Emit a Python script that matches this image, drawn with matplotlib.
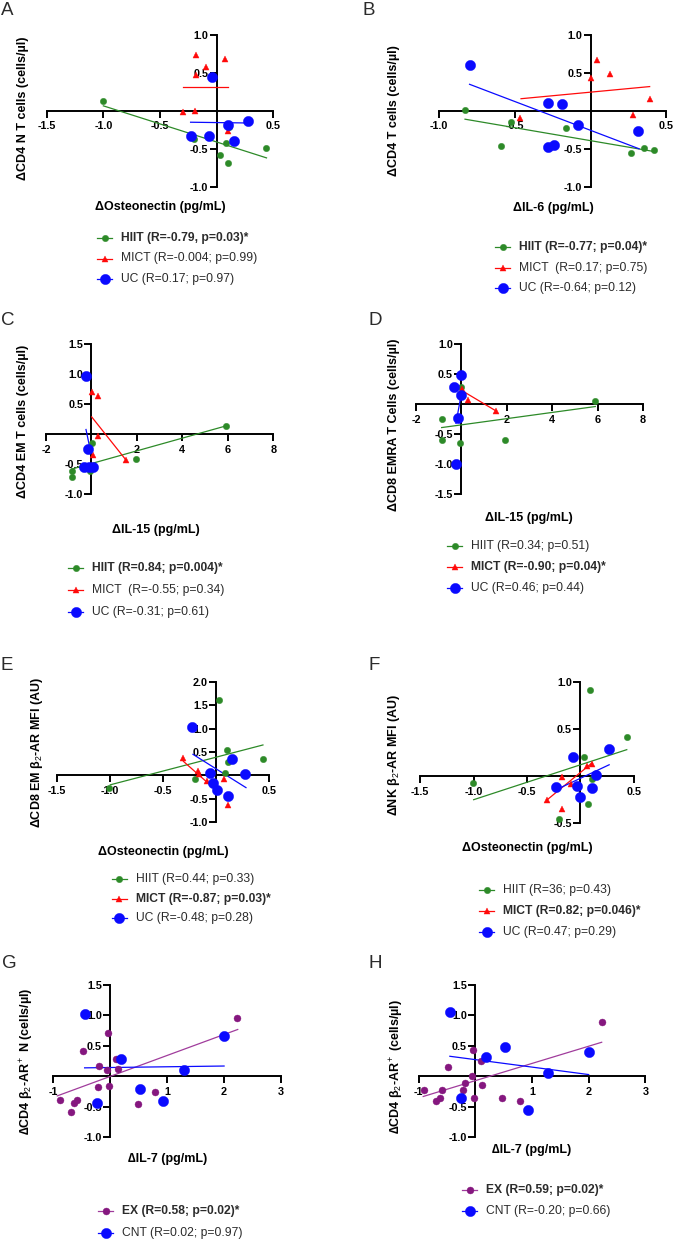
import numpy as np
import matplotlib
matplotlib.use('Agg')
import matplotlib.pyplot as plt
from matplotlib.lines import Line2D

plt.rcParams['font.family'] = ['Liberation Sans', 'DejaVu Sans']
plt.rcParams['mathtext.fontset'] = 'custom'
plt.rcParams['mathtext.rm'] = 'Liberation Sans'
plt.rcParams['mathtext.bf'] = 'Liberation Sans:bold'
plt.rcParams['mathtext.it'] = 'Liberation Sans:italic'

# ---------------- DATA ----------------
# Panel A: dCD4 N T cells vs dOsteonectin
A_hiit_x = [-1.0, -0.20, 0.08, 0.11, 0.03, 0.10, 0.435]
A_hiit_y = [0.13, -0.37, -0.42, -0.21, -0.58, -0.69, -0.49]
A_hiit_fit_x = [-1.0, 0.44]
A_hiit_fit_y = [0.066, -0.62]
A_mict_x = [-0.18, -0.09, -0.18, 0.07, -0.30, -0.19, 0.10]
A_mict_y = [0.73, 0.58, 0.47, 0.68, -0.01, 0.0, -0.26]
A_mict_fit_x = [-0.30, 0.10]
A_mict_fit_y = [0.31, 0.31]
A_uc_x = [-0.04, -0.23, -0.065, 0.10, 0.155, 0.28]
A_uc_y = [0.44, -0.33, -0.33, -0.18, -0.40, -0.13]
A_uc_fit_x = [-0.23, 0.28]
A_uc_fit_y = [-0.15, -0.16]

# Panel B: dCD4 T cells vs dIL-6
B_hiit_x = [-0.83, -0.525, -0.59, -0.165, 0.27, 0.355, 0.42]
B_hiit_y = [0.01, -0.15, -0.47, -0.22, -0.56, -0.49, -0.52]
B_hiit_fit_x = [-0.83, 0.43]
B_hiit_fit_y = [-0.11, -0.54]
B_mict_x = [-0.465, 0.0, 0.04, 0.125, 0.28, 0.39]
B_mict_y = [-0.10, 0.43, 0.67, 0.48, -0.06, 0.15]
B_mict_fit_x = [-0.46, 0.39]
B_mict_fit_y = [0.16, 0.32]
B_uc_x = [-0.80, -0.28, -0.19, -0.085, 0.31, -0.285, -0.245]
B_uc_y = [0.60, 0.105, 0.09, -0.19, -0.26, -0.48, -0.45]
B_uc_fit_x = [-0.80, 0.32]
B_uc_fit_y = [0.35, -0.50]

# Panel C: dCD4 EM T cells vs dIL-15
C_hiit_x = [-0.87, -0.87, -0.07, 0.01, 1.96, 5.92]
C_hiit_y = [-0.61, -0.71, -0.61, -0.15, -0.41, 0.14]
C_hiit_fit_x = [-0.87, 5.92]
C_hiit_fit_y = [-0.58, 0.14]
C_mict_x = [0.01, 0.30, 0.27, 0.08, 1.50]
C_mict_y = [0.71, 0.64, -0.03, -0.35, -0.42]
C_mict_fit_x = [0.01, 1.50]
C_mict_fit_y = [0.29, -0.42]
C_uc_x = [-0.24, -0.14, -0.33, -0.10, 0.05]
C_uc_y = [0.98, -0.25, -0.54, -0.55, -0.55]
C_uc_fit_x = [-0.24, -0.07]
C_uc_fit_y = [0.08, -0.23]

# Panel D: dCD8 EMRA T cells vs dIL-15
D_hiit_x = [-0.87, -0.87, -0.02, -0.06, 1.92, 5.90]
D_hiit_y = [-0.24, -0.60, 0.28, -0.65, -0.59, 0.06]
D_hiit_fit_x = [-0.87, 5.9]
D_hiit_fit_y = [-0.39, -0.04]
D_mict_x = [0.04, 0.28, 1.51]
D_mict_y = [0.25, 0.07, -0.11]
D_mict_fit_x = [0.0, 1.51]
D_mict_fit_y = [0.23, -0.11]
D_uc_x = [-0.02, -0.33, -0.02, -0.16, -0.24]
D_uc_y = [0.48, 0.29, 0.15, -0.23, -1.0]
D_uc_fit_x = [-0.24, 0.04]
D_uc_fit_y = [-0.32, 0.26]

# Panel E: dCD8 EM b2-AR MFI vs dOsteonectin
E_hiit_x = [-1.01, -0.20, 0.03, 0.10, 0.115, 0.08, 0.44]
E_hiit_y = [-0.26, -0.08, 1.61, 0.55, 0.28, 0.06, 0.35]
E_hiit_fit_x = [-1.0, 0.44]
E_hiit_fit_y = [-0.20, 0.65]
E_mict_x = [-0.31, -0.175, -0.16, -0.09, 0.07, 0.11]
E_mict_y = [0.37, 0.10, 0.03, -0.11, -0.08, -0.63]
E_mict_fit_x = [-0.31, 0.0]
E_mict_fit_y = [0.30, -0.32]
E_uc_x = [-0.23, -0.06, -0.03, 0.01, 0.11, 0.15, 0.275]
E_uc_y = [1.04, 0.06, -0.16, -0.31, -0.43, 0.35, 0.03]
E_uc_fit_x = [-0.22, 0.28]
E_uc_fit_y = [0.45, -0.26]

# Panel F: dNK b2-AR MFI vs dOsteonectin
F_hiit_x = [-1.01, 0.03, 0.09, 0.11, 0.075, -0.20, 0.435]
F_hiit_y = [-0.07, 0.20, 0.91, -0.03, -0.30, -0.45, 0.41]
F_hiit_fit_x = [-1.0, 0.435]
F_hiit_fit_y = [-0.25, 0.28]
F_mict_x = [-0.31, -0.175, -0.175, -0.09, 0.065, 0.11]
F_mict_y = [-0.25, -0.01, -0.35, -0.08, 0.11, 0.13]
F_mict_fit_x = [-0.31, 0.11]
F_mict_fit_y = [-0.25, 0.14]
F_uc_x = [-0.23, -0.066, -0.03, 0.0, 0.11, 0.15, 0.27]
F_uc_y = [-0.12, 0.20, -0.10, -0.22, -0.13, 0.01, 0.29]
F_uc_fit_x = [-0.20, 0.27]
F_uc_fit_y = [-0.13, 0.12]

# Panel G: dCD4 b2-AR+ N vs dIL-7
G_ex_x = [-0.89, -0.69, -0.63, -0.58, -0.47, -0.22, -0.19, -0.04, -0.05, -0.02, 0.10, 0.13, 0.48, 0.79, 2.23]
G_ex_y = [-0.38, -0.59, -0.43, -0.38, 0.41, -0.18, 0.17, 0.71, 0.11, -0.15, 0.28, 0.12, -0.45, -0.25, 0.96]
G_ex_fit_x = [-0.93, 2.24]
G_ex_fit_y = [-0.32, 0.77]
G_cnt_x = [-0.45, -0.235, 0.19, 0.525, 0.935, 1.30, 2.0]
G_cnt_y = [1.02, -0.43, 0.28, -0.21, -0.40, 0.11, 0.67]
G_cnt_fit_x = [-0.45, 2.0]
G_cnt_fit_y = [0.14, 0.17]

# Panel H: dCD4 b2-AR+ vs dIL-7
H_ex_x = [-0.91, -0.69, -0.63, -0.59, -0.48, -0.22, -0.19, -0.05, -0.06, -0.03, 0.10, 0.12, 0.47, 0.78, 2.23]
H_ex_y = [-0.23, -0.40, -0.36, -0.23, 0.16, -0.23, -0.11, 0.44, 0.0, -0.36, 0.26, -0.14, -0.36, -0.40, 0.89]
H_ex_fit_x = [-0.92, 2.23]
H_ex_fit_y = [-0.33, 0.56]
H_cnt_x = [-0.45, -0.25, 0.19, 0.52, 0.93, 1.29, 2.01]
H_cnt_y = [1.05, -0.35, 0.32, 0.49, -0.55, 0.06, 0.40]
H_cnt_fit_x = [-0.45, 2.0]
H_cnt_fit_y = [0.33, 0.03]

# Tick values / labels
ticks_osteo_x = [-1.5, -1.0, -0.5, 0.5]
ticklabels_osteo_x = ['-1.5', '-1.0', '-0.5', '0.5']
ticks_il6_x = [-1.0, -0.5, 0.5]
ticklabels_il6_x = ['-1.0', '-0.5', '0.5']
ticks_il15_x = [-2, 2, 4, 6, 8]
ticklabels_il15_x = ['-2', '2', '4', '6', '8']
ticks_il7_x = [-1, 1, 2, 3]
ticklabels_il7_x = ['-1', '1', '2', '3']
ticks_y_A = [-1.0, -0.5, 0.5, 1.0]
ticklabels_y_A = ['-1.0', '-0.5', '0.5', '1.0']
ticks_y_C = [-1.0, -0.5, 0.5, 1.0, 1.5]
ticklabels_y_C = ['-1.0', '-0.5', '0.5', '1.0', '1.5']
ticks_y_D = [-1.5, -1.0, -0.5, 0.5, 1.0]
ticklabels_y_D = ['-1.5', '-1.0', '-0.5', '0.5', '1.0']
ticks_y_E = [-1.0, -0.5, 0.5, 1.0, 1.5, 2.0]
ticklabels_y_E = ['-1.0', '-0.5', '0.5', '1.0', '1.5', '2.0']
ticks_y_F = [-0.5, 0.5, 1.0]
ticklabels_y_F = ['-0.5', '0.5', '1.0']

# Legend labels
A_labels = ['HIIT (R=-0.79, p=0.03)*', 'MICT (R=-0.004; p=0.99)', 'UC (R=0.17; p=0.97)']
B_labels = ['HIIT (R=-0.77; p=0.04)*', 'MICT  (R=0.17; p=0.75)', 'UC (R=-0.64; p=0.12)']
C_labels = ['HIIT (R=0.84; p=0.004)*', 'MICT  (R=-0.55; p=0.34)', 'UC (R=-0.31; p=0.61)']
D_labels = ['HIIT (R=0.34; p=0.51)', 'MICT (R=-0.90; p=0.04)*', 'UC (R=0.46; p=0.44)']
E_labels = ['HIIT (R=0.44; p=0.33)', 'MICT (R=-0.87; p=0.03)*', 'UC (R=-0.48; p=0.28)']
F_labels = ['HIIT (R=36; p=0.43)', 'MICT (R=0.82; p=0.046)*', 'UC (R=0.47; p=0.29)']
G_labels = ['EX (R=0.58; p=0.02)*', 'CNT (R=0.02; p=0.97)']
H_labels = ['EX (R=0.59; p=0.02)*', 'CNT (R=-0.20; p=0.66)']

# ---------------- STYLE / LAYOUT ----------------
W, H = 674, 1240
fig = plt.figure(figsize=(W / 100, H / 100), dpi=100)

GREEN = '#2d8a28'
RED = '#ff0a0a'
BLUE = '#0a0aff'
PURPLE = '#85177f'
PURPLE_LINE = '#a03c9c'
TXT = '#2b2b2b'

STYLE = {
    'HIIT': dict(color=GREEN, line=GREEN, marker='o', ms=4.6),
    'MICT': dict(color=RED, line=RED, marker='^', ms=5.0),
    'UC': dict(color=BLUE, line=BLUE, marker='o', ms=7.4),
    'EX': dict(color=PURPLE, line=PURPLE_LINE, marker='o', ms=5.0),
    'CNT': dict(color=BLUE, line=BLUE, marker='o', ms=7.4),
}


def fx(x):
    return x / W


def fy(y):
    return 1 - y / H


def panel(letter, letter_xy, box, xlim, ylim, xt, xtl, yt, ytl,
          xlabel, xlabel_xy, ylabel, ylabel_xy, series, labels, bold_idx,
          leg_x, leg_y0, leg_dy):
    px0, px1, pyb, pyt = box
    ax = fig.add_axes([fx(px0), fy(pyb), (px1 - px0) / W, (pyb - pyt) / H])
    ax.set_xlim(xlim)
    ax.set_ylim(ylim)
    ax.patch.set_visible(False)
    for s in ['top', 'right']:
        ax.spines[s].set_visible(False)
    ax.spines['left'].set_position(('data', 0))
    ax.spines['bottom'].set_position(('data', 0))
    for s in ['left', 'bottom']:
        ax.spines[s].set_linewidth(1.4)
        ax.spines[s].set_color('black')
    ax.set_xticks(xt)
    ax.set_xticklabels(xtl, fontweight='bold', fontsize=7.8)
    ax.set_yticks(yt)
    ax.set_yticklabels(ytl, fontweight='bold', fontsize=7.8)
    ax.tick_params(axis='x', direction='out', length=5, width=1.4, pad=2.5)
    ax.tick_params(axis='y', direction='out', length=5, width=1.4, pad=1.0)

    for name, xs, ys, fxs, fys in series:
        st = STYLE[name]
        ax.plot(fxs, fys, color=st['line'], lw=0.9, zorder=3, clip_on=False)
        ax.plot(xs, ys, ls='none', marker=st['marker'], ms=st['ms'],
                color=st['color'], mec=st['color'], mew=0.3, zorder=4, clip_on=False)

    fig.text(fx(xlabel_xy[0]), fy(xlabel_xy[1]), xlabel, ha='center', va='center',
             fontsize=9, fontweight='bold', color='black')
    fig.text(fx(ylabel_xy[0]), fy(ylabel_xy[1]), ylabel, ha='center', va='center',
             rotation=90, fontsize=9, fontweight='bold', color='black')
    fig.text(fx(letter_xy[0]), fy(letter_xy[1]), letter, ha='left', va='baseline',
             fontsize=13.5, color=TXT)

    # legend
    for i, ((name, *_), lab) in enumerate(zip(series, labels)):
        st = STYLE[name]
        y = leg_y0 + i * leg_dy
        fig.add_artist(Line2D([fx(leg_x), fx(leg_x + 15)], [fy(y), fy(y)],
                              transform=fig.transFigure, color=st['line'], lw=0.9))
        fig.add_artist(Line2D([fx(leg_x + 7.5)], [fy(y)], transform=fig.transFigure,
                              ls='none', marker=st['marker'], ms=st['ms'],
                              color=st['color'], mec=st['color'], mew=0.3))
        fig.text(fx(leg_x + 24), fy(y), lab, ha='left', va='center', fontsize=8.7,
                 fontweight='bold' if i == bold_idx else 'normal', color=TXT)
    return ax


panel('A', (1, 15), (46.7, 273.3, 186.7, 35), (-1.5, 0.5), (-1, 1),
      ticks_osteo_x, ticklabels_osteo_x, ticks_y_A, ticklabels_y_A,
      'ΔOsteonectin (pg/mL)', (160, 207), 'ΔCD4 N T cells (cells/µl)', (23.3, 108),
      [('HIIT', A_hiit_x, A_hiit_y, A_hiit_fit_x, A_hiit_fit_y),
       ('MICT', A_mict_x, A_mict_y, A_mict_fit_x, A_mict_fit_y),
       ('UC', A_uc_x, A_uc_y, A_uc_fit_x, A_uc_fit_y)],
      A_labels, 0, 97, 238, 20.5)

panel('B', (363, 15), (439.3, 666.3, 186.7, 35), (-1.0, 0.5), (-1, 1),
      ticks_il6_x, ticklabels_il6_x, ticks_y_A, ticklabels_y_A,
      'ΔIL-6 (pg/mL)', (553, 208), 'ΔCD4 T cells (cells/µl)', (393.7, 111),
      [('HIIT', B_hiit_x, B_hiit_y, B_hiit_fit_x, B_hiit_fit_y),
       ('MICT', B_mict_x, B_mict_y, B_mict_fit_x, B_mict_fit_y),
       ('UC', B_uc_x, B_uc_y, B_uc_fit_x, B_uc_fit_y)],
      B_labels, 0, 495, 247, 20.5)

panel('C', (1, 325), (46, 273.3, 494.3, 344.3), (-2, 8), (-1.0, 1.5),
      ticks_il15_x, ticklabels_il15_x, ticks_y_C, ticklabels_y_C,
      'ΔIL-15 (pg/mL)', (156, 530), 'ΔCD4 EM T cells (cells/µl)', (23.3, 421),
      [('HIIT', C_hiit_x, C_hiit_y, C_hiit_fit_x, C_hiit_fit_y),
       ('MICT', C_mict_x, C_mict_y, C_mict_fit_x, C_mict_fit_y),
       ('UC', C_uc_x, C_uc_y, C_uc_fit_x, C_uc_fit_y)],
      C_labels, 0, 68, 568, 22)

panel('D', (369, 325), (416, 643, 494.3, 344), (-2, 8), (-1.5, 1.0),
      ticks_il15_x, ticklabels_il15_x, ticks_y_D, ticklabels_y_D,
      'ΔIL-15 (pg/mL)', (529, 518), 'ΔCD8 EMRA T Cells (cells/µl)', (393.7, 425),
      [('HIIT', D_hiit_x, D_hiit_y, D_hiit_fit_x, D_hiit_fit_y),
       ('MICT', D_mict_x, D_mict_y, D_mict_fit_x, D_mict_fit_y),
       ('UC', D_uc_x, D_uc_y, D_uc_fit_x, D_uc_fit_y)],
      D_labels, 1, 447, 546, 20.8)

panel('E', (1, 670), (57.3, 269.3, 822.3, 681.7), (-1.5, 0.5), (-1.0, 2.0),
      ticks_osteo_x, ticklabels_osteo_x, ticks_y_E, ticklabels_y_E,
      'ΔOsteonectin (pg/mL)', (163, 852), r'ΔCD8 EM β$_2$-AR MFI (AU)', (37.3, 752),
      [('HIIT', E_hiit_x, E_hiit_y, E_hiit_fit_x, E_hiit_fit_y),
       ('MICT', E_mict_x, E_mict_y, E_mict_fit_x, E_mict_fit_y),
       ('UC', E_uc_x, E_uc_y, E_uc_fit_x, E_uc_fit_y)],
      E_labels, 1, 112, 879, 19.7)

panel('F', (369, 670), (420.3, 633.7, 823.3, 681.7), (-1.5, 0.5), (-0.5, 1.0),
      ticks_osteo_x, ticklabels_osteo_x, ticks_y_F, ticklabels_y_F,
      'ΔOsteonectin (pg/mL)', (527, 848), r'ΔNK β$_2$-AR MFI (AU)', (393.7, 755),
      [('HIIT', F_hiit_x, F_hiit_y, F_hiit_fit_x, F_hiit_fit_y),
       ('MICT', F_mict_x, F_mict_y, F_mict_fit_x, F_mict_fit_y),
       ('UC', F_uc_x, F_uc_y, F_uc_fit_x, F_uc_fit_y)],
      F_labels, 1, 479, 890, 21)

panel('G', (2, 968), (53.3, 281, 1137.3, 985), (-1, 3), (-1.0, 1.5),
      ticks_il7_x, ticklabels_il7_x, ticks_y_C, ticklabels_y_C,
      '∆IL-7 (pg/mL)', (168, 1159), r'∆CD4 β$_2$-AR$^+$ N (cells/µl)', (26.7, 1061),
      [('EX', G_ex_x, G_ex_y, G_ex_fit_x, G_ex_fit_y),
       ('CNT', G_cnt_x, G_cnt_y, G_cnt_fit_x, G_cnt_fit_y)],
      G_labels, 0, 98, 1211, 21.7)

panel('H', (369, 968), (418.7, 645.3, 1137.3, 985), (-1, 3), (-1.0, 1.5),
      ticks_il7_x, ticklabels_il7_x, ticks_y_C, ticklabels_y_C,
      '∆IL-7 (pg/mL)', (532, 1150), r'∆CD4 β$_2$-AR$^+$ (cells/µl)', (397, 1066),
      [('EX', H_ex_x, H_ex_y, H_ex_fit_x, H_ex_fit_y),
       ('CNT', H_cnt_x, H_cnt_y, H_cnt_fit_x, H_cnt_fit_y)],
      H_labels, 0, 462, 1190, 21)

fig.savefig('out.png', dpi=100, facecolor='white')
